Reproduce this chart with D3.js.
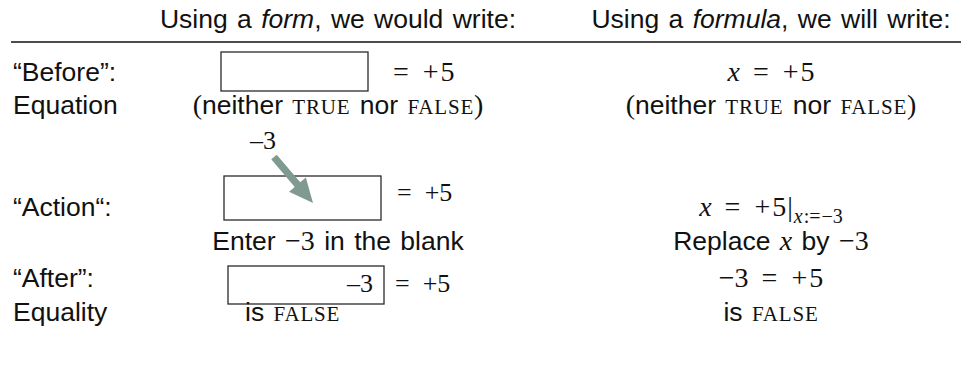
<!DOCTYPE html>
<html>
<head>
<meta charset="utf-8">
<script src="https://cdn.jsdelivr.net/npm/d3@7"></script>
<style>
  html, body { margin: 0; padding: 0; background: #fff; }
  svg { display: block; }
</style>
</head>
<body>
<svg id="chart" width="961" height="366"></svg>
<script>
// ---- data ----
const columns = ["label", "form", "formula"];
const headerLead = ["", "Using a ", "Using a "];
const headerItalic = ["", "form", "formula"];
const headerTail = ["", ", we would write:", ", we will write:"];
const rowKeys = ["header", "before", "equation", "arrow", "action", "enter", "after", "equality"];
const rowLabels = { before: "\u201CBefore\u201D:", equation: "Equation", action: "\u201CAction\u201C:", after: "\u201CAfter\u201D:", equality: "Equality" };
const enteredValue = ["\u20133"];   // value typed into the blank
const rhsValue = ["+5"];            // right-hand side

const svg = d3.select("#chart");
const W = 961;
const SANS = "'Liberation Sans', Arial, sans-serif";
const SERIF = "'Liberation Serif', 'Times New Roman', serif";
const INK = "#111";
const SANS_SIZE = 26.5, MATH_SIZE = 28;

const x = d3.scaleOrdinal().domain(columns).range([13, 338, 771]);
const y = d3.scaleOrdinal().domain(rowKeys).range([28, 81, 114, 149, 216, 250, 287, 321]);

// ---- header + rule ----
const hdr = svg.append("g").attr("font-family", SANS).attr("font-size", SANS_SIZE)
  .attr("fill", INK).attr("word-spacing", 2);
columns.slice(1).forEach((c, i) => {
  const k = i + 1;
  const t = hdr.append("text").attr("x", x(c)).attr("y", y("header")).attr("text-anchor", "middle");
  t.append("tspan").text(headerLead[k]);
  t.append("tspan").attr("font-style", "italic").text(headerItalic[k]);
  t.append("tspan").text(headerTail[k]);
});
svg.append("line").attr("x1", 11).attr("x2", W).attr("y1", 42).attr("y2", 42)
  .attr("stroke", INK).attr("stroke-width", 1.6);

// ---- row labels ----
svg.append("g").attr("font-family", SANS).attr("font-size", SANS_SIZE).attr("fill", INK)
  .selectAll("text").data(Object.keys(rowLabels)).join("text")
  .attr("x", x("label")).attr("y", d => y(d))
  .text(d => rowLabels[d]);

// ---- helpers ----
// tokens: {t, f:'sans'|'serif', it, sc, dx, dy, size}
function rich(g, cx, cy, anchor, tokens) {
  const t = g.append("text").attr("x", cx).attr("y", cy).attr("text-anchor", anchor)
    .attr("fill", INK).attr("xml:space", "preserve").attr("word-spacing", 2);
  tokens.forEach(k => {
    const s = t.append("tspan").text(k.t)
      .attr("font-family", k.f === "sans" ? SANS : SERIF)
      .attr("font-size", k.size || (k.f === "sans" ? SANS_SIZE : MATH_SIZE));
    if (k.it) s.attr("font-style", "italic");
    if (k.sc) s.attr("font-variant", "small-caps").attr("font-size", 30).attr("letter-spacing", 0.8);
    if (k.dx) s.attr("dx", k.dx);
    if (k.dy) s.attr("dy", k.dy);
  });
  return t;
}
const neitherTokens = [
  { t: "(", f: "serif" }, { t: "neither ", f: "sans" },
  { t: "true", f: "serif", sc: true }, { t: " nor ", f: "sans" },
  { t: "false", f: "serif", sc: true }, { t: ")", f: "serif" }
];
const isFalseTokens = [{ t: "is ", f: "sans" }, { t: "false", f: "serif", sc: true }];
const eqPlus = (lead) => [...lead, { t: "=", f: "serif", dx: 13 }, { t: "+", f: "serif", dx: 14 }, { t: "5", f: "serif", dx: 2 }];

function box(g, x0, x1, y0, y1) {
  g.append("rect").attr("x", x0).attr("y", y0).attr("width", x1 - x0).attr("height", y1 - y0)
    .attr("fill", "#fff").attr("stroke", "#2a2a2a").attr("stroke-width", 1.3);
}

const g = svg.append("g");

// ---- form column ----
// Before
box(g, 221, 368, 52, 91);
rich(g, 393, y("before"), "start", [{ t: "=", f: "serif" }, { t: "+", f: "serif", dx: 14 }, { t: "5", f: "serif", dx: 2 }]);
rich(g, x("form"), y("equation"), "middle", neitherTokens);

// Action
box(g, 224, 381, 176, 220);
g.append("text").attr("x", 250).attr("y", y("arrow")).attr("font-family", SERIF)
  .attr("font-size", 26).attr("fill", INK).text(enteredValue[0]);
g.append("text").attr("x", 397).attr("y", 201).attr("font-family", SERIF)
  .attr("font-size", 26).attr("fill", INK).attr("xml:space", "preserve")
  .text("=  " + rhsValue[0]);
// arrow
{
  const ax0 = 274, ay0 = 157, ax1 = 313, ay1 = 203;
  const ang = Math.atan2(ay1 - ay0, ax1 - ax0);
  const len = Math.hypot(ax1 - ax0, ay1 - ay0);
  const headL = 24, headW = 11, shaftW = 3.6;
  const pts = [[0, -shaftW], [len - headL, -shaftW], [len - headL, -headW], [len, 0],
               [len - headL, headW], [len - headL, shaftW], [0, shaftW]];
  g.append("polygon")
    .attr("points", pts.map(p => p.join(",")).join(" "))
    .attr("fill", "#809a92")
    .attr("transform", `translate(${ax0},${ay0}) rotate(${ang * 180 / Math.PI})`);
}
rich(g, x("form"), y("enter"), "middle", [
  { t: "Enter ", f: "sans" }, { t: "\u22123", f: "serif" }, { t: " in the blank", f: "sans" }
]);

// After
box(g, 228, 384, 266, 304);
g.append("text").attr("x", 373).attr("y", 292).attr("text-anchor", "end").attr("font-family", SERIF)
  .attr("font-size", 26).attr("fill", INK).text(enteredValue[0]);
g.append("text").attr("x", 395).attr("y", 292).attr("font-family", SERIF)
  .attr("font-size", 26).attr("fill", INK).attr("xml:space", "preserve")
  .text("=  " + rhsValue[0]);
rich(g, 245, y("equality"), "start", isFalseTokens);

// ---- formula column ----
rich(g, x("formula"), y("before"), "middle", eqPlus([{ t: "x", f: "serif", it: true }]));
rich(g, x("formula"), y("equation"), "middle", neitherTokens);
rich(g, x("formula"), y("action"), "middle", [
  ...eqPlus([{ t: "x", f: "serif", it: true }]),
  { t: "|", f: "serif", dx: 1 },
  { t: "x", f: "serif", it: true, size: 20, dy: 7, dx: 1 },
  { t: ":=", f: "serif", size: 20, dx: 1 },
  { t: "\u22123", f: "serif", size: 20, dx: 1 }
]);
rich(g, x("formula"), y("enter"), "middle", [
  { t: "Replace ", f: "sans" }, { t: "x", f: "serif", it: true },
  { t: " by ", f: "sans" }, { t: "\u22123", f: "serif" }
]);
rich(g, x("formula"), y("after"), "middle", eqPlus([{ t: "\u22123", f: "serif" }]));
rich(g, x("formula"), y("equality"), "middle", isFalseTokens);
</script>
</body>
</html>
